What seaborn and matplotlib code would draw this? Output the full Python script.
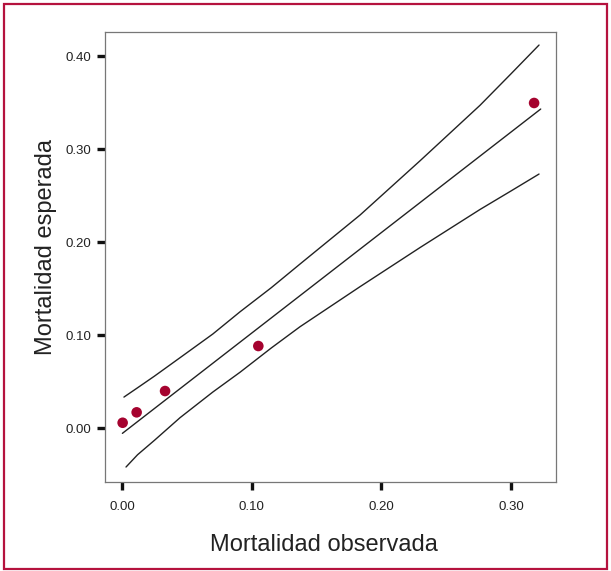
import matplotlib
matplotlib.use("Agg")
import matplotlib.pyplot as plt
from matplotlib.patches import Rectangle
import seaborn as sns
import pandas as pd

# Observed vs expected mortality (points)
obs_mort = [0.0005, 0.0113, 0.0332, 0.1051, 0.3177]
exp_mort = [0.0057, 0.0169, 0.0398, 0.0882, 0.3495]

# Fitted line and confidence bands
fit_x = [0.0003, 0.3228]
fit_y = [-0.0057, 0.3430]
upper_x = [0.0015, 0.0120, 0.0250, 0.0447, 0.0700, 0.0910, 0.1150, 0.1372,
           0.1835, 0.2298, 0.2760, 0.3000, 0.3215]
upper_y = [0.0333, 0.0433, 0.0558, 0.0756, 0.1011, 0.1250, 0.1508, 0.1763,
           0.2290, 0.2874, 0.3470, 0.3810, 0.4118]
lower_x = [0.0031, 0.0120, 0.0250, 0.0447, 0.0700, 0.0910, 0.1150, 0.1372,
           0.1835, 0.2298, 0.2760, 0.3000, 0.3215]
lower_y = [-0.0419, -0.0287, -0.0132, 0.0111, 0.0387, 0.0600, 0.0860, 0.1089,
           0.1520, 0.1941, 0.2350, 0.2550, 0.2731]

x_ticks = [0.0, 0.1, 0.2, 0.3]
y_ticks = [0.0, 0.1, 0.2, 0.3, 0.4]
x_label = "Mortalidad observada"
y_label = "Mortalidad esperada"

sns.set_style("white")
plt.rcParams["font.family"] = ["Liberation Sans", "DejaVu Sans"]

fig = plt.figure(figsize=(6.11, 5.71), dpi=100)
ax = fig.add_axes([105 / 611, 1 - 482 / 571, 450.5 / 611, (482 - 32.3) / 571])

line_color = "#222222"
lw = 1.0
sns.lineplot(x=upper_x, y=upper_y, ax=ax, color=line_color, lw=lw, sort=False, estimator=None)
sns.lineplot(x=fit_x, y=fit_y, ax=ax, color=line_color, lw=lw, sort=False, estimator=None)
sns.lineplot(x=lower_x, y=lower_y, ax=ax, color=line_color, lw=lw, sort=False, estimator=None)

pts = pd.DataFrame({"obs": obs_mort, "exp": exp_mort})
sns.scatterplot(data=pts, x="obs", y="exp", ax=ax, color="#a5032f", s=58,
                edgecolor="none", zorder=5)

ax.set_xlim(-0.0131, 0.3342)
ax.set_ylim(-0.058, 0.4255)
ax.set_xticks(x_ticks)
ax.set_yticks(y_ticks)
ax.set_xticklabels([f"{v:.2f}" for v in x_ticks])
ax.set_yticklabels([f"{v:.2f}" for v in y_ticks])
ax.tick_params(axis="both", which="major", direction="out", length=6, width=2.4,
               color="#111111", labelsize=9.5, labelcolor="#222222", pad=4,
               bottom=True, left=True)
ax.tick_params(axis="x", pad=8)

for sp in ax.spines.values():
    sp.set_color("#777777")
    sp.set_linewidth(0.9)
    sp.set_visible(True)

ax.set_xlabel(x_label, fontsize=17, color="#222222", labelpad=15)
ax.set_ylabel(y_label, fontsize=17, color="#222222", labelpad=6)
ax.xaxis.label.set_x(0.486)
ax.yaxis.label.set_y(0.523)

# crimson frame around the figure
fig.patches.append(Rectangle((4 / 611, 2 / 571), 603 / 611, 565 / 571,
                             transform=fig.transFigure, fill=False,
                             edgecolor="#b5123e", linewidth=1.6))

fig.savefig("out.png", dpi=100)
